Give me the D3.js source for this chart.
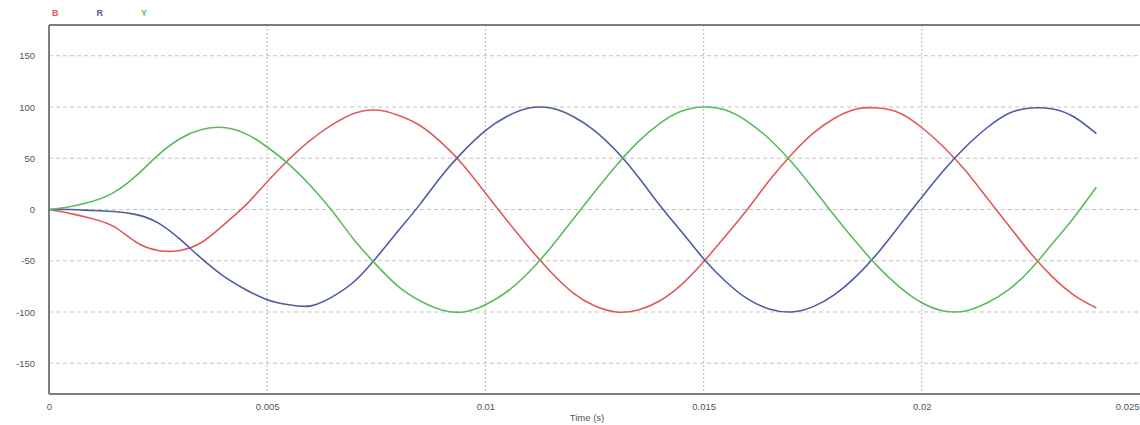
<!DOCTYPE html>
<html>
<head>
<meta charset="utf-8">
<script src="https://cdn.jsdelivr.net/npm/d3@7"></script>
<style>
  html, body { margin: 0; padding: 0; background: #fff; }
  svg { display: block; }
  text { font-family: "Liberation Sans", Arial, sans-serif; }
</style>
</head>
<body>
<svg id="chart" width="1140" height="425"></svg>
<script>
// Sample times (s), 0.5 ms step
const times = d3.range(49).map(i => i * 0.0005);

// Phase currents at each sample time
const seriesB = [0, -4, -9, -17, -32, -40, -40, -32, -15, 4, 27, 49, 68, 83, 94, 97, 92, 82, 65, 43,
  16, -11, -37, -61, -81, -94, -100, -98, -89, -73, -51, -26, 0, 28, 53, 74, 89, 98, 99, 94,
  80, 61, 38, 11, -16, -43, -66, -84, -96];
const seriesR = [0, 0, -1, -2, -5, -13, -29, -48, -65, -78, -88, -93, -94, -85, -70, -47, -21, 5, 33, 57,
  77, 91, 99, 99, 91, 77, 57, 32, 4, -22, -48, -70, -87, -97, -100, -95, -83, -65, -42, -15,
  12, 38, 61, 80, 94, 99, 98, 90, 74];
const seriesY = [0, 3, 8, 17, 33, 53, 69, 78, 80, 74, 61, 44, 23, -2, -30, -54, -75, -89, -98, -100,
  -93, -80, -61, -37, -10, 17, 43, 66, 84, 96, 100, 97, 86, 69, 47, 21, -6, -32, -56, -76,
  -91, -99, -99, -91, -78, -58, -33, -7, 22];

const seriesNames = ["B", "R", "Y"];
const seriesColors = ["#e05a5a", "#4d5ca3", "#5cbb5c"];
const xTicks = [0, 0.005, 0.01, 0.015, 0.02, 0.025];
const yTicks = [-150, -100, -50, 0, 50, 100, 150];
const xTitle = "Time (s)";

const svg = d3.select("#chart");
const plotLeft = 49, plotRight = 1140, plotTop = 25, plotBottom = 394;
const width = 1140;

const x = d3.scaleLinear().domain([0, 0.025]).range([plotLeft, plotRight]);
const y = d3.scaleLinear().domain([-180, 180]).range([plotBottom, plotTop]);

// Grid
const grid = svg.append("g");
grid.selectAll("line.h").data(yTicks).join("line")
  .attr("class", "h")
  .attr("x1", plotLeft).attr("x2", plotRight)
  .attr("y1", d => y(d)).attr("y2", d => y(d))
  .attr("stroke", "#c4c4c4").attr("stroke-width", 1.2)
  .attr("stroke-dasharray", "4,3");
grid.selectAll("line.v").data(xTicks.filter(d => d > 0 && d < 0.025)).join("line")
  .attr("class", "v")
  .attr("x1", d => x(d)).attr("x2", d => x(d))
  .attr("y1", plotTop).attr("y2", plotBottom)
  .attr("stroke", "#c4c4c4").attr("stroke-width", 1.2)
  .attr("stroke-dasharray", "2,2");

// Axes (labels only, frame drawn separately)
const yAxis = d3.axisLeft(y).tickValues(yTicks).tickSize(0).tickPadding(14)
  .tickFormat(d => String(d));
const gy = svg.append("g").attr("transform", `translate(${plotLeft},0)`).call(yAxis);
gy.select(".domain").remove();
gy.selectAll("text").attr("fill", "#555").style("font-size", "9.5px");

const xAxis = d3.axisBottom(x).tickValues(xTicks).tickSize(0).tickPadding(9)
  .tickFormat(d => d === 0 ? "0" : String(+d.toFixed(3)));
const gx = svg.append("g").attr("transform", `translate(0,${plotBottom})`).call(xAxis);
gx.select(".domain").remove();
gx.selectAll("text").attr("fill", "#555").style("font-size", "9.5px");
// keep the last tick label inside the page
gx.selectAll(".tick").filter(d => x(d) >= width - 2).select("text")
  .attr("text-anchor", "end").attr("dx", -1);

svg.append("text").attr("x", 587).attr("y", 421).attr("text-anchor", "middle")
  .attr("fill", "#555").style("font-size", "9.5px").text(xTitle);

// Curves
const data = [seriesB, seriesR, seriesY];
const line = d3.line()
  .x((d, i) => x(times[i]))
  .y(d => y(d))
  .curve(d3.curveNatural);
svg.append("g").selectAll("path").data(data).join("path")
  .attr("d", d => line(d))
  .attr("fill", "none")
  .attr("stroke", (d, i) => seriesColors[i])
  .attr("stroke-width", 1.6);

// Frame
const frame = svg.append("g").attr("stroke", "#7c7c84").attr("stroke-width", 2);
frame.append("line").attr("x1", plotLeft).attr("x2", plotRight).attr("y1", plotTop).attr("y2", plotTop);
frame.append("line").attr("x1", plotLeft).attr("x2", plotRight).attr("y1", plotBottom).attr("y2", plotBottom);
frame.append("line").attr("x1", plotLeft).attr("x2", plotLeft).attr("y1", plotTop).attr("y2", plotBottom);

// Legend
svg.append("g").selectAll("text").data(seriesNames).join("text")
  .attr("x", (d, i) => 52 + i * 44.5)
  .attr("y", 16)
  .attr("fill", (d, i) => seriesColors[i])
  .style("font-size", "9px")
  .style("font-weight", "bold")
  .text(d => d);
</script>
</body>
</html>
